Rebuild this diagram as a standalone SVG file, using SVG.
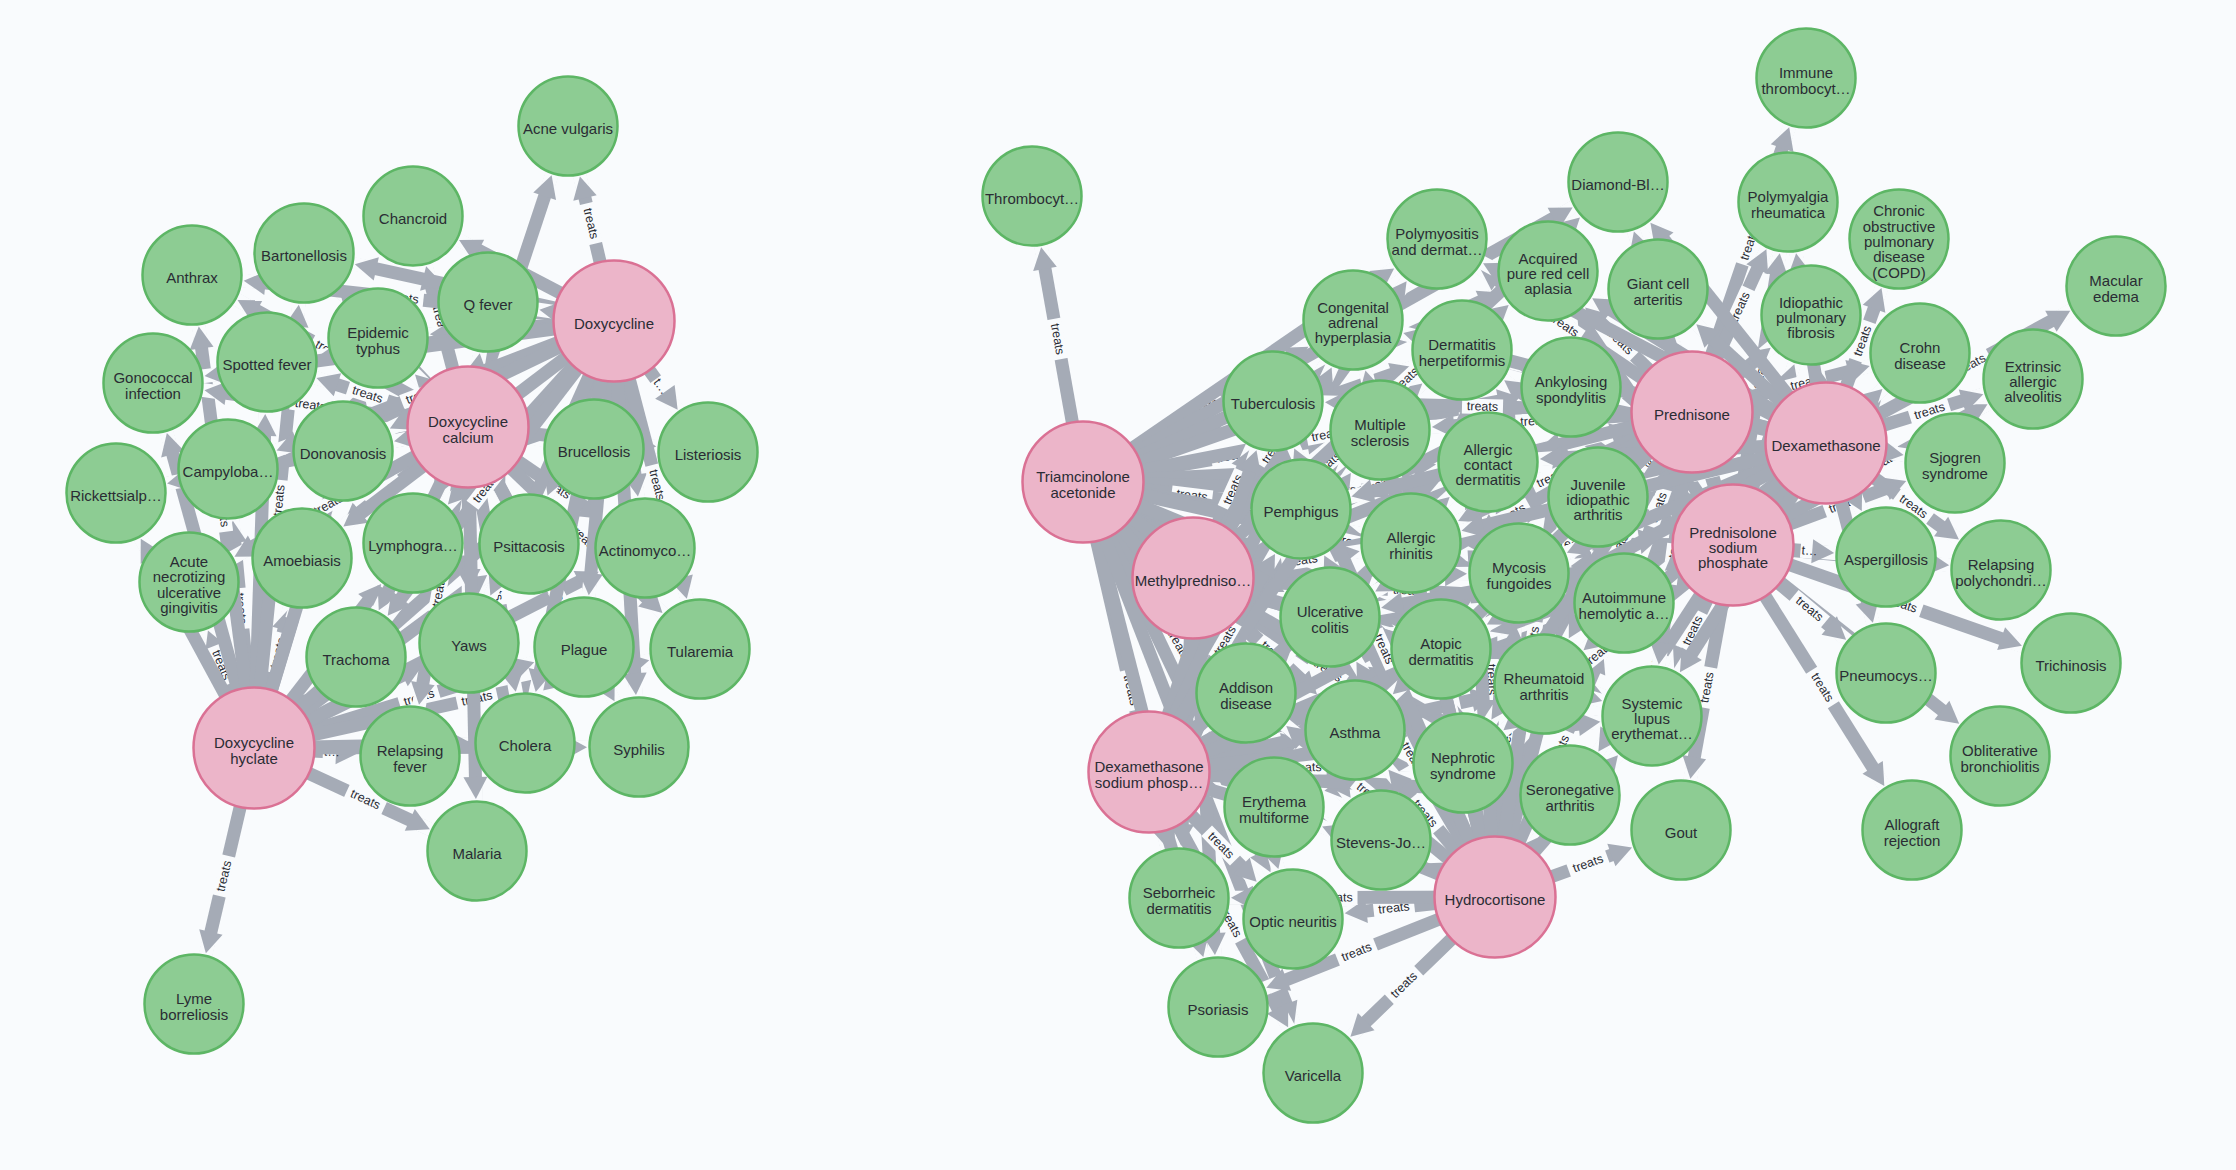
<svg xmlns="http://www.w3.org/2000/svg" width="2236" height="1170" viewBox="0 0 2236 1170">
<style>
.e path{fill:none;stroke:#A5ABB6;stroke-width:13;marker-mid:url(#gp)}
.e .f{marker-end:url(#ah)}
.e .r{marker-start:url(#ah)}
.e .s{marker-mid:url(#gs)}
.e text{font-family:"Liberation Sans",Arial,sans-serif;font-size:12.5px;fill:#2A2C34;text-anchor:middle;dominant-baseline:central}
.e textPath{dominant-baseline:central}
.n circle{fill:#8DCC93;stroke:#5DB665;stroke-width:2.5}
.d circle{fill:#ECB5C9;stroke:#DA7194;stroke-width:2.5}
.n text,.d text{font-family:"Liberation Sans",Arial,sans-serif;font-size:15px;fill:#2A2C34;text-anchor:middle}
</style>
<defs>
<marker id="ah" markerUnits="userSpaceOnUse" orient="auto-start-reverse" overflow="visible" refX="0" refY="0" markerWidth="1" markerHeight="1">
<path d="M-65,-7H-46V7H-65Z" fill="#F9FBFD"/>
<path d="M-52,0L-74,-12L-74,12Z" fill="#A5ABB6"/>
</marker>
<marker id="gp" markerUnits="userSpaceOnUse" orient="auto" overflow="visible" refX="0" refY="0" markerWidth="1" markerHeight="1">
<rect x="-20.5" y="-7.5" width="41" height="15" fill="#F9FBFD"/>
</marker>
<marker id="gs" markerUnits="userSpaceOnUse" orient="auto" overflow="visible" refX="0" refY="0" markerWidth="1" markerHeight="1">
<rect x="-9" y="-7.5" width="18" height="15" fill="#F9FBFD"/>
</marker>
</defs>
<rect width="2236" height="1170" fill="#F9FBFD"/>
<g id="connectors" class="e">
<path id="k1" class="r" d="M194 1004L224 876L254 748"/><text><textPath href="#k1" startOffset="50%">treats</textPath></text>
<path id="k2" class="f" d="M254 748L365.5 799.5L477 851"/><text><textPath href="#k2" startOffset="50%">treats</textPath></text>
<path id="k3" class="f s" d="M254 748L332 752L410 756"/><text><textPath href="#k3" startOffset="50%">t…</textPath></text>
<path id="k4" class="f" d="M254 748L525 743"/>
<path id="k5" class="f" d="M254 748L639 747"/>
<path id="k6" class="f" d="M254 748L419 697.5L584 647"/><text><textPath href="#k6" startOffset="50%">treats</textPath></text>
<path id="k7" class="f" d="M254 748L469 643"/>
<path id="k8" class="f" d="M254 748L356 657"/>
<path id="k9" class="f" d="M254 748L477 698.5L700 649"/><text><textPath href="#k9" startOffset="50%">treats</textPath></text>
<path id="k10" class="f" d="M254 748L645 548"/>
<path id="k11" class="f" d="M254 748L529 544"/>
<path id="k12" class="f" d="M254 748L413 543"/>
<path id="k13" class="f" d="M254 748L278 653L302 558"/><text><textPath href="#k13" startOffset="50%">treats</textPath></text>
<path id="k14" class="r" d="M189 582L221.5 665L254 748"/><text><textPath href="#k14" startOffset="50%">treats</textPath></text>
<path id="k15" class="r" d="M116 493L254 748"/>
<path id="k16" class="r" d="M153 383L254 748"/>
<path id="k17" class="r" d="M228 469L241 608.5L254 748"/><text><textPath href="#k17" startOffset="50%">treats</textPath></text>
<path id="k18" class="r" d="M192 275L223 511.5L254 748"/><text><textPath href="#k18" startOffset="50%">treats</textPath></text>
<path id="k19" class="f" d="M254 748L267 362"/>
<path id="k20" class="f" d="M254 748L279 500.5L304 253"/><text><textPath href="#k20" startOffset="50%">treats</textPath></text>
<path id="k21" class="f" d="M254 748L298.5 599.5L343 451"/><text><textPath href="#k21" startOffset="50%">treats</textPath></text>
<path id="k22" class="f" d="M254 748L378 338"/>
<path id="k23" class="f" d="M254 748L594 449"/>
<path id="k24" class="f" d="M468 427L568 126"/>
<path id="k25" class="r" d="M413 216L440.5 321.5L468 427"/><text><textPath href="#k25" startOffset="50%">treats</textPath></text>
<path id="k26" class="r" d="M304 253L468 427"/>
<path id="k27" class="r" d="M192 275L330 351L468 427"/><text><textPath href="#k27" startOffset="50%">treats</textPath></text>
<path id="k28" class="f" d="M468 427L488 302"/>
<path id="k29" class="r" d="M378 338L468 427"/>
<path id="k30" class="r" d="M267 362L367.5 394.5L468 427"/><text><textPath href="#k30" startOffset="50%">treats</textPath></text>
<path id="k31" class="r" d="M153 383L310.5 405L468 427"/><text><textPath href="#k31" startOffset="50%">treats</textPath></text>
<path id="k32" class="r" d="M228 469L468 427"/>
<path id="k33" class="r" d="M116 493L468 427"/>
<path id="k34" class="r" d="M343 451L468 427"/>
<path id="k35" class="f" d="M468 427L594 449"/>
<path id="k36" class="f" d="M468 427L708 452"/>
<path id="k37" class="r" d="M189 582L328.5 504.5L468 427"/><text><textPath href="#k37" startOffset="50%">treats</textPath></text>
<path id="k38" class="r" d="M302 558L385 492.5L468 427"/><text><textPath href="#k38" startOffset="50%">treats</textPath></text>
<path id="k39" class="r" d="M413 543L468 427"/>
<path id="k40" class="f" d="M468 427L529 544"/>
<path id="k41" class="f" d="M468 427L556.5 487.5L645 548"/><text><textPath href="#k41" startOffset="50%">treats</textPath></text>
<path id="k42" class="r" d="M356 657L468 427"/>
<path id="k43" class="f" d="M468 427L468.5 535L469 643"/><text><textPath href="#k43" startOffset="50%">treats</textPath></text>
<path id="k44" class="f" d="M468 427L584 647"/>
<path id="k45" class="f" d="M468 427L584 538L700 649"/><text><textPath href="#k45" startOffset="50%">treats</textPath></text>
<path id="k46" class="r" d="M410 756L439 591.5L468 427"/><text><textPath href="#k46" startOffset="50%">treats</textPath></text>
<path id="k47" class="f" d="M468 427L496.5 585L525 743"/><text><textPath href="#k47" startOffset="50%">treats</textPath></text>
<path id="k48" class="f" d="M468 427L553.5 587L639 747"/><text><textPath href="#k48" startOffset="50%">treats</textPath></text>
<path id="k49" class="f" d="M468 427L477 851"/>
<path id="k50" class="r" d="M568 126L591 223.5L614 321"/><text><textPath href="#k50" startOffset="50%">treats</textPath></text>
<path id="k51" class="r" d="M413 216L614 321"/>
<path id="k52" class="r" d="M304 253L614 321"/>
<path id="k53" class="r" d="M192 275L403 298L614 321"/><text><textPath href="#k53" startOffset="50%">treats</textPath></text>
<path id="k54" class="r" d="M488 302L614 321"/>
<path id="k55" class="r" d="M378 338L614 321"/>
<path id="k56" class="r" d="M267 362L614 321"/>
<path id="k57" class="r" d="M153 383L614 321"/>
<path id="k58" class="r" d="M228 469L421 395L614 321"/><text><textPath href="#k58" startOffset="50%">treats</textPath></text>
<path id="k59" class="r" d="M343 451L614 321"/>
<path id="k60" class="r" d="M594 449L614 321"/>
<path id="k61" class="f s" d="M614 321L661 386.5L708 452"/><text><textPath href="#k61" startOffset="50%">t…</textPath></text>
<path id="k62" class="r" d="M302 558L614 321"/>
<path id="k63" class="r" d="M413 543L614 321"/>
<path id="k64" class="r" d="M529 544L614 321"/>
<path id="k65" class="f" d="M614 321L645 548"/>
<path id="k66" class="r" d="M356 657L485 489L614 321"/><text><textPath href="#k66" startOffset="50%">treats</textPath></text>
<path id="k67" class="r" d="M469 643L614 321"/>
<path id="k68" class="r" d="M584 647L614 321"/>
<path id="k69" class="f" d="M614 321L657 485L700 649"/><text><textPath href="#k69" startOffset="50%">treats</textPath></text>
<path id="k70" class="r" d="M525 743L614 321"/>
<path id="k71" class="f" d="M614 321L639 747"/>
<path id="k72" class="r" d="M1032 196L1057.5 339L1083 482"/><text><textPath href="#k72" startOffset="50%">treats</textPath></text>
<path id="k73" class="f" d="M1083 482L1178 441.5L1273 401"/><text><textPath href="#k73" startOffset="50%">treats</textPath></text>
<path id="k74" class="f" d="M1083 482L1204.5 409.1L1353 320"/><text><textPath href="#k74" startOffset="45%">treats</textPath></text>
<path id="k75" class="f" d="M1083 482L1231.5 456L1380 430"/><text><textPath href="#k75" startOffset="50%">treats</textPath></text>
<path id="k76" class="f" d="M1083 482L1437 239"/>
<path id="k77" class="f" d="M1083 482L1618 182"/>
<path id="k78" class="f" d="M1083 482L1315.5 376.5L1548 271"/><text><textPath href="#k78" startOffset="50%">treats</textPath></text>
<path id="k79" class="f" d="M1083 482L1462 350"/>
<path id="k80" class="f" d="M1083 482L1327 434.5L1571 387"/><text><textPath href="#k80" startOffset="50%">treats</textPath></text>
<path id="k81" class="f" d="M1083 482L1488 462"/>
<path id="k82" class="f" d="M1083 482L1340.5 489.5L1598 497"/><text><textPath href="#k82" startOffset="50%">treats</textPath></text>
<path id="k83" class="f" d="M1083 482L1192 495.5L1301 509"/><text><textPath href="#k83" startOffset="50%">treats</textPath></text>
<path id="k84" class="f" d="M1083 482L1247 512.5L1411 543"/><text><textPath href="#k84" startOffset="50%">treats</textPath></text>
<path id="k85" class="f" d="M1083 482L1519 573"/>
<path id="k86" class="f" d="M1083 482L1330 617"/>
<path id="k87" class="f" d="M1083 482L1262 565.5L1441 649"/><text><textPath href="#k87" startOffset="50%">treats</textPath></text>
<path id="k88" class="f" d="M1083 482L1544 684"/>
<path id="k89" class="f" d="M1083 482L1246 693"/>
<path id="k90" class="f" d="M1083 482L1355 730"/>
<path id="k91" class="f" d="M1083 482L1178.5 644.5L1274 807"/><text><textPath href="#k91" startOffset="50%">treats</textPath></text>
<path id="k92" class="f" d="M1083 482L1273 622.5L1463 763"/><text><textPath href="#k92" startOffset="50%">treats</textPath></text>
<path id="k93" class="f" d="M1083 482L1381 840"/>
<path id="k94" class="f" d="M1083 482L1131 690L1179 898"/><text><textPath href="#k94" startOffset="50%">treats</textPath></text>
<path id="k95" class="f" d="M1083 482L1218 1007"/>
<path id="k96" class="f" d="M1083 482L1188 700.5L1293 919"/><text><textPath href="#k96" startOffset="50%">treats</textPath></text>
<path id="k97" class="f" d="M1083 482L1313 1073"/>
<path id="k98" class="f" d="M1083 482L1353.5 542.5L1624 603"/><text><textPath href="#k98" startOffset="50%">treats</textPath></text>
<path id="k99" class="f" d="M1083 482L1652 716"/>
<path id="k100" class="f" d="M1193 578L1233 489.5L1273 401"/><text><textPath href="#k100" startOffset="50%">treats</textPath></text>
<path id="k101" class="f" d="M1193 578L1273 449L1353 320"/><text><textPath href="#k101" startOffset="50%">treats</textPath></text>
<path id="k102" class="f" d="M1193 578L1380 430"/>
<path id="k103" class="f" d="M1193 578L1437 239"/>
<path id="k104" class="f" d="M1193 578L1548 271"/>
<path id="k105" class="f" d="M1193 578L1327.5 464L1462 350"/><text><textPath href="#k105" startOffset="50%">treats</textPath></text>
<path id="k106" class="f" d="M1193 578L1382 482.5L1571 387"/><text><textPath href="#k106" startOffset="50%">treats</textPath></text>
<path id="k107" class="f" d="M1193 578L1488 462"/>
<path id="k108" class="f" d="M1193 578L1598 497"/>
<path id="k109" class="f" d="M1193 578L1301 509"/>
<path id="k110" class="f" d="M1193 578L1302 560.5L1411 543"/><text><textPath href="#k110" startOffset="50%">treats</textPath></text>
<path id="k111" class="f" d="M1193 578L1356 575.5L1519 573"/><text><textPath href="#k111" startOffset="50%">treats</textPath></text>
<path id="k112" class="f" d="M1193 578L1330 617"/>
<path id="k113" class="f" d="M1193 578L1441 649"/>
<path id="k114" class="f" d="M1193 578L1544 684"/>
<path id="k115" class="f" d="M1193 578L1246 693"/>
<path id="k116" class="f" d="M1193 578L1274 654L1355 730"/><text><textPath href="#k116" startOffset="50%">treats</textPath></text>
<path id="k117" class="f" d="M1193 578L1274 807"/>
<path id="k118" class="f" d="M1193 578L1328 670.5L1463 763"/><text><textPath href="#k118" startOffset="50%">treats</textPath></text>
<path id="k119" class="f" d="M1193 578L1287 709L1381 840"/><text><textPath href="#k119" startOffset="50%">treats</textPath></text>
<path id="k120" class="r" d="M1179 898L1193 578"/>
<path id="k121" class="f" d="M1193 578L1218 1007"/>
<path id="k122" class="f" d="M1193 578L1243 748.5L1293 919"/><text><textPath href="#k122" startOffset="50%">treats</textPath></text>
<path id="k123" class="f" d="M1193 578L1408.5 590.5L1624 603"/><text><textPath href="#k123" startOffset="50%">treats</textPath></text>
<path id="k124" class="f" d="M1193 578L1652 716"/>
<path id="k125" class="f" d="M1193 578L1381.5 686.5L1570 795"/><text><textPath href="#k125" startOffset="50%">treats</textPath></text>
<path id="k126" class="f" d="M1193 578L1405.5 380L1618 182"/><text><textPath href="#k126" startOffset="50%">treats</textPath></text>
<path id="k127" class="f" d="M1149 772L1273 401"/>
<path id="k128" class="f" d="M1149 772L1353 320"/>
<path id="k129" class="f" d="M1149 772L1380 430"/>
<path id="k130" class="f" d="M1149 772L1225 640.5L1301 509"/><text><textPath href="#k130" startOffset="50%">treats</textPath></text>
<path id="k131" class="f" d="M1149 772L1411 543"/>
<path id="k132" class="f" d="M1149 772L1330 617"/>
<path id="k133" class="f" d="M1149 772L1246 693"/>
<path id="k134" class="f" d="M1149 772L1355 730"/>
<path id="k135" class="f" d="M1149 772L1274 807"/>
<path id="k136" class="f" d="M1149 772L1441 649"/>
<path id="k137" class="f" d="M1149 772L1519 573"/>
<path id="k138" class="f" d="M1149 772L1544 684"/>
<path id="k139" class="f" d="M1149 772L1306 767.5L1463 763"/><text><textPath href="#k139" startOffset="50%">treats</textPath></text>
<path id="k140" class="f" d="M1149 772L1570 795"/>
<path id="k141" class="f" d="M1149 772L1381 840"/>
<path id="k142" class="f" d="M1149 772L1179 898"/>
<path id="k143" class="f" d="M1149 772L1221 845.5L1293 919"/><text><textPath href="#k143" startOffset="50%">treats</textPath></text>
<path id="k144" class="f" d="M1149 772L1218 1007"/>
<path id="k145" class="f" d="M1149 772L1231 922.5L1313 1073"/><text><textPath href="#k145" startOffset="50%">treats</textPath></text>
<path id="k146" class="f" d="M1149 772L1624 603"/>
<path id="k147" class="f" d="M1149 772L1652 716"/>
<path id="k148" class="f" d="M1149 772L1488 462"/>
<path id="k149" class="f" d="M1495 897L1588 863.5L1681 830"/><text><textPath href="#k149" startOffset="50%">treats</textPath></text>
<path id="k150" class="r" d="M1293 919L1394 908L1495 897"/><text><textPath href="#k150" startOffset="50%">treats</textPath></text>
<path id="k151" class="r" d="M1179 898L1337 897.5L1495 897"/><text><textPath href="#k151" startOffset="50%">treats</textPath></text>
<path id="k152" class="r" d="M1218 1007L1356.5 952L1495 897"/><text><textPath href="#k152" startOffset="50%">treats</textPath></text>
<path id="k153" class="r" d="M1313 1073L1404 985L1495 897"/><text><textPath href="#k153" startOffset="50%">treats</textPath></text>
<path id="k154" class="r" d="M1381 840L1495 897"/>
<path id="k155" class="f" d="M1495 897L1570 795"/>
<path id="k156" class="r" d="M1463 763L1495 897"/>
<path id="k157" class="f" d="M1495 897L1544 684"/>
<path id="k158" class="f" d="M1495 897L1652 716"/>
<path id="k159" class="r" d="M1355 730L1425 813.5L1495 897"/><text><textPath href="#k159" startOffset="50%">treats</textPath></text>
<path id="k160" class="r" d="M1441 649L1495 897"/>
<path id="k161" class="r" d="M1274 807L1495 897"/>
<path id="k162" class="r" d="M1246 693L1370.5 795L1495 897"/><text><textPath href="#k162" startOffset="50%">treats</textPath></text>
<path id="k163" class="r" d="M1330 617L1412.5 757L1495 897"/><text><textPath href="#k163" startOffset="50%">treats</textPath></text>
<path id="k164" class="r" d="M1411 543L1453 720L1495 897"/><text><textPath href="#k164" startOffset="50%">treats</textPath></text>
<path id="k165" class="f" d="M1495 897L1507 735L1519 573"/><text><textPath href="#k165" startOffset="50%">treats</textPath></text>
<path id="k166" class="f" d="M1495 897L1559.5 750L1624 603"/><text><textPath href="#k166" startOffset="50%">treats</textPath></text>
<path id="k167" class="f" d="M1495 897L1598 497"/>
<path id="k168" class="r" d="M1488 462L1491.5 679.5L1495 897"/><text><textPath href="#k168" startOffset="50%">treats</textPath></text>
<path id="k169" class="r" d="M1301 509L1495 897"/>
<path id="k170" class="r" d="M1380 430L1495 897"/>
<path id="k171" class="r" d="M1273 401L1384 649L1495 897"/><text><textPath href="#k171" startOffset="50%">treats</textPath></text>
<path id="k172" class="r" d="M1353 320L1495 897"/>
<path id="k173" class="r" d="M1462 350L1478.5 623.5L1495 897"/><text><textPath href="#k173" startOffset="50%">treats</textPath></text>
<path id="k174" class="f" d="M1495 897L1533 642L1571 387"/><text><textPath href="#k174" startOffset="50%">treats</textPath></text>
<path id="k175" class="r" d="M1681 830L1707 687.5L1733 545"/><text><textPath href="#k175" startOffset="50%">treats</textPath></text>
<path id="k176" class="f" d="M1733 545L1822.5 687.5L1912 830"/><text><textPath href="#k176" startOffset="50%">treats</textPath></text>
<path id="k177" class="f" d="M1733 545L2000 756"/>
<path id="k178" class="f" d="M1733 545L1902 604L2071 663"/><text><textPath href="#k178" startOffset="50%">treats</textPath></text>
<path id="k179" class="f" d="M1733 545L1809.5 609L1886 673"/><text><textPath href="#k179" startOffset="50%">treats</textPath></text>
<path id="k180" class="f" d="M1733 545L2001 570"/>
<path id="k181" class="f s" d="M1733 545L1809.5 551L1886 557"/><text><textPath href="#k181" startOffset="50%">t…</textPath></text>
<path id="k182" class="f" d="M1733 545L1844 504L1955 463"/><text><textPath href="#k182" startOffset="50%">treats</textPath></text>
<path id="k183" class="f" d="M1733 545L1883 462L2033 379"/><text><textPath href="#k183" startOffset="50%">treats</textPath></text>
<path id="k184" class="f" d="M1733 545L1920 353"/>
<path id="k185" class="f" d="M1733 545L1760.5 373.5L1788 202"/><text><textPath href="#k185" startOffset="50%">treats</textPath></text>
<path id="k186" class="r" d="M1618 182L1733 545"/>
<path id="k187" class="f" d="M1733 545L1811 315"/>
<path id="k188" class="r" d="M1658 289L1733 545"/>
<path id="k189" class="r" d="M1652 716L1692.5 630.5L1733 545"/><text><textPath href="#k189" startOffset="50%">treats</textPath></text>
<path id="k190" class="r" d="M1624 603L1733 545"/>
<path id="k191" class="r" d="M1544 684L1733 545"/>
<path id="k192" class="r" d="M1598 497L1733 545"/>
<path id="k193" class="r" d="M1519 573L1733 545"/>
<path id="k194" class="r" d="M1571 387L1652 466L1733 545"/><text><textPath href="#k194" startOffset="50%">treats</textPath></text>
<path id="k195" class="r" d="M1488 462L1733 545"/>
<path id="k196" class="r" d="M1411 543L1572 544L1733 545"/><text><textPath href="#k196" startOffset="50%">treats</textPath></text>
<path id="k197" class="r" d="M1441 649L1733 545"/>
<path id="k198" class="r" d="M1570 795L1651.5 670L1733 545"/><text><textPath href="#k198" startOffset="50%">treats</textPath></text>
<path id="k199" class="r" d="M1463 763L1598 654L1733 545"/><text><textPath href="#k199" startOffset="50%">treats</textPath></text>
<path id="k200" class="r" d="M1330 617L1733 545"/>
<path id="k201" class="r" d="M1462 350L1733 545"/>
<path id="k202" class="r" d="M1548 271L1733 545"/>
<path id="k203" class="f" d="M1692 412L1749 245L1806 78"/><text><textPath href="#k203" startOffset="50%">treats</textPath></text>
<path id="k204" class="f" d="M1692 412L1740 307L1788 202"/><text><textPath href="#k204" startOffset="50%">treats</textPath></text>
<path id="k205" class="r" d="M1658 289L1692 412"/>
<path id="k206" class="f" d="M1692 412L1811 315"/>
<path id="k207" class="f" d="M1692 412L1806 382.5L1920 353"/><text><textPath href="#k207" startOffset="50%">treats</textPath></text>
<path id="k208" class="r" d="M1618 182L1692 412"/>
<path id="k209" class="r" d="M1548 271L1620 341.5L1692 412"/><text><textPath href="#k209" startOffset="50%">treats</textPath></text>
<path id="k210" class="r" d="M1571 387L1692 412"/>
<path id="k211" class="r" d="M1462 350L1692 412"/>
<path id="k212" class="r" d="M1437 239L1564.5 325.5L1692 412"/><text><textPath href="#k212" startOffset="50%">treats</textPath></text>
<path id="k213" class="r" d="M1353 320L1692 412"/>
<path id="k214" class="r" d="M1273 401L1482.5 406.5L1692 412"/><text><textPath href="#k214" startOffset="50%">treats</textPath></text>
<path id="k215" class="r" d="M1380 430L1536 421L1692 412"/><text><textPath href="#k215" startOffset="50%">treats</textPath></text>
<path id="k216" class="r" d="M1488 462L1590 437L1692 412"/><text><textPath href="#k216" startOffset="50%">treats</textPath></text>
<path id="k217" class="r" d="M1598 497L1692 412"/>
<path id="k218" class="r" d="M1411 543L1551.5 477.5L1692 412"/><text><textPath href="#k218" startOffset="50%">treats</textPath></text>
<path id="k219" class="r" d="M1519 573L1692 412"/>
<path id="k220" class="r" d="M1624 603L1658 507.5L1692 412"/><text><textPath href="#k220" startOffset="50%">treats</textPath></text>
<path id="k221" class="r" d="M1544 684L1618 548L1692 412"/><text><textPath href="#k221" startOffset="50%">treats</textPath></text>
<path id="k222" class="r" d="M1652 716L1672 564L1692 412"/><text><textPath href="#k222" startOffset="50%">treats</textPath></text>
<path id="k223" class="r" d="M1330 617L1511 514.5L1692 412"/><text><textPath href="#k223" startOffset="50%">treats</textPath></text>
<path id="k224" class="r" d="M1441 649L1692 412"/>
<path id="k225" class="r" d="M1301 509L1692 412"/>
<path id="k226" class="r" d="M1355 730L1692 412"/>
<path id="k227" class="r" d="M1463 763L1692 412"/>
<path id="k228" class="f" d="M1826 443L1862.5 341L1899 239"/><text><textPath href="#k228" startOffset="50%">treats</textPath></text>
<path id="k229" class="f" d="M1826 443L1971 364.5L2116 286"/><text><textPath href="#k229" startOffset="50%">treats</textPath></text>
<path id="k230" class="r" d="M1811 315L1826 443"/>
<path id="k231" class="f" d="M1826 443L1920 353"/>
<path id="k232" class="f" d="M1826 443L1929.5 411L2033 379"/><text><textPath href="#k232" startOffset="50%">treats</textPath></text>
<path id="k233" class="f" d="M1826 443L1955 463"/>
<path id="k234" class="f" d="M1826 443L1886 557"/>
<path id="k235" class="f" d="M1826 443L1913.5 506.5L2001 570"/><text><textPath href="#k235" startOffset="50%">treats</textPath></text>
<path id="k236" class="f" d="M1826 443L1886 673"/>
<path id="k237" class="r" d="M1788 202L1826 443"/>
<path id="k238" class="r" d="M1658 289L1826 443"/>
<path id="k239" class="r" d="M1618 182L1826 443"/>
<path id="k240" class="r" d="M1437 239L1826 443"/>
<path id="k241" class="r" d="M1548 271L1826 443"/>
<path id="k242" class="r" d="M1571 387L1826 443"/>
<path id="k243" class="r" d="M1598 497L1712 470L1826 443"/><text><textPath href="#k243" startOffset="50%">treats</textPath></text>
<path id="k244" class="r" d="M1488 462L1826 443"/>
<path id="k245" class="r" d="M1519 573L1826 443"/>
<path id="k246" class="r" d="M1624 603L1826 443"/>
<path id="k247" class="r" d="M1652 716L1826 443"/>
<path id="k248" class="r" d="M1544 684L1826 443"/>
<path id="k249" class="r" d="M1441 649L1826 443"/>
<path id="k250" class="r" d="M1411 543L1826 443"/>
<path id="k251" class="r" d="M1462 350L1826 443"/>
<path id="k252" class="r" d="M1353 320L1826 443"/>
</g>
<g id="nodes">
<g id="n-acne" class="n" transform="translate(568,126)"><circle r="49.5"/><text y="8">Acne vulgaris</text></g>
<g id="n-chan" class="n" transform="translate(413,216)"><circle r="49.5"/><text y="8">Chancroid</text></g>
<g id="n-bart" class="n" transform="translate(304,253)"><circle r="49.5"/><text y="8">Bartonellosis</text></g>
<g id="n-anth" class="n" transform="translate(192,275)"><circle r="49.5"/><text y="8">Anthrax</text></g>
<g id="n-qfev" class="n" transform="translate(488,302)"><circle r="49.5"/><text y="8">Q fever</text></g>
<g id="n-epid" class="n" transform="translate(378,338)"><circle r="49.5"/><text y="0.4"><tspan x="0">Epidemic</tspan><tspan x="0" dy="15.3">typhus</tspan></text></g>
<g id="n-spot" class="n" transform="translate(267,362)"><circle r="49.5"/><text y="8">Spotted fever</text></g>
<g id="n-gono" class="n" transform="translate(153,383)"><circle r="49.5"/><text y="0.4"><tspan x="0">Gonococcal</tspan><tspan x="0" dy="15.3">infection</tspan></text></g>
<g id="n-camp" class="n" transform="translate(228,469)"><circle r="49.5"/><text y="8">Campyloba…</text></g>
<g id="n-rick" class="n" transform="translate(116,493)"><circle r="49.5"/><text y="8">Rickettsialp…</text></g>
<g id="n-dono" class="n" transform="translate(343,451)"><circle r="49.5"/><text y="8">Donovanosis</text></g>
<g id="n-bruc" class="n" transform="translate(594,449)"><circle r="49.5"/><text y="8">Brucellosis</text></g>
<g id="n-list" class="n" transform="translate(708,452)"><circle r="49.5"/><text y="8">Listeriosis</text></g>
<g id="n-acut" class="n" transform="translate(189,582)"><circle r="49.5"/><text y="-15"><tspan x="0">Acute</tspan><tspan x="0" dy="15.3">necrotizing</tspan><tspan x="0" dy="15.3">ulcerative</tspan><tspan x="0" dy="15.3">gingivitis</tspan></text></g>
<g id="n-amoe" class="n" transform="translate(302,558)"><circle r="49.5"/><text y="8">Amoebiasis</text></g>
<g id="n-lymp" class="n" transform="translate(413,543)"><circle r="49.5"/><text y="8">Lymphogra…</text></g>
<g id="n-psit" class="n" transform="translate(529,544)"><circle r="49.5"/><text y="8">Psittacosis</text></g>
<g id="n-acti" class="n" transform="translate(645,548)"><circle r="49.5"/><text y="8">Actinomyco…</text></g>
<g id="n-trac" class="n" transform="translate(356,657)"><circle r="49.5"/><text y="8">Trachoma</text></g>
<g id="n-yaws" class="n" transform="translate(469,643)"><circle r="49.5"/><text y="8">Yaws</text></g>
<g id="n-plag" class="n" transform="translate(584,647)"><circle r="49.5"/><text y="8">Plague</text></g>
<g id="n-tula" class="n" transform="translate(700,649)"><circle r="49.5"/><text y="8">Tularemia</text></g>
<g id="n-relf" class="n" transform="translate(410,756)"><circle r="49.5"/><text y="0.4"><tspan x="0">Relapsing</tspan><tspan x="0" dy="15.3">fever</tspan></text></g>
<g id="n-chol" class="n" transform="translate(525,743)"><circle r="49.5"/><text y="8">Cholera</text></g>
<g id="n-syph" class="n" transform="translate(639,747)"><circle r="49.5"/><text y="8">Syphilis</text></g>
<g id="n-mala" class="n" transform="translate(477,851)"><circle r="49.5"/><text y="8">Malaria</text></g>
<g id="n-lyme" class="n" transform="translate(194,1004)"><circle r="49.5"/><text y="0.4"><tspan x="0">Lyme</tspan><tspan x="0" dy="15.3">borreliosis</tspan></text></g>
<g id="d-doxy" class="d" transform="translate(614,321)"><circle r="60.5"/><text y="8">Doxycycline</text></g>
<g id="d-calc" class="d" transform="translate(468,427)"><circle r="60.5"/><text y="0.4"><tspan x="0">Doxycycline</tspan><tspan x="0" dy="15.3">calcium</tspan></text></g>
<g id="d-hyc" class="d" transform="translate(254,748)"><circle r="60.5"/><text y="0.4"><tspan x="0">Doxycycline</tspan><tspan x="0" dy="15.3">hyclate</tspan></text></g>
<g id="n-thromb" class="n" transform="translate(1032,196)"><circle r="49.5"/><text y="8">Thrombocyt…</text></g>
<g id="n-cah" class="n" transform="translate(1353,320)"><circle r="49.5"/><text y="-7.3"><tspan x="0">Congenital</tspan><tspan x="0" dy="15.3">adrenal</tspan><tspan x="0" dy="15.3">hyperplasia</tspan></text></g>
<g id="n-tb" class="n" transform="translate(1273,401)"><circle r="49.5"/><text y="8">Tuberculosis</text></g>
<g id="n-ms" class="n" transform="translate(1380,430)"><circle r="49.5"/><text y="0.4"><tspan x="0">Multiple</tspan><tspan x="0" dy="15.3">sclerosis</tspan></text></g>
<g id="n-polymy" class="n" transform="translate(1437,239)"><circle r="49.5"/><text y="0.4"><tspan x="0">Polymyositis</tspan><tspan x="0" dy="15.3">and dermat…</tspan></text></g>
<g id="n-diam" class="n" transform="translate(1618,182)"><circle r="49.5"/><text y="8">Diamond-Bl…</text></g>
<g id="n-aprca" class="n" transform="translate(1548,271)"><circle r="49.5"/><text y="-7.3"><tspan x="0">Acquired</tspan><tspan x="0" dy="15.3">pure red cell</tspan><tspan x="0" dy="15.3">aplasia</tspan></text></g>
<g id="n-gca" class="n" transform="translate(1658,289)"><circle r="49.5"/><text y="0.4"><tspan x="0">Giant cell</tspan><tspan x="0" dy="15.3">arteritis</tspan></text></g>
<g id="n-dh" class="n" transform="translate(1462,350)"><circle r="49.5"/><text y="0.4"><tspan x="0">Dermatitis</tspan><tspan x="0" dy="15.3">herpetiformis</tspan></text></g>
<g id="n-as" class="n" transform="translate(1571,387)"><circle r="49.5"/><text y="0.4"><tspan x="0">Ankylosing</tspan><tspan x="0" dy="15.3">spondylitis</tspan></text></g>
<g id="n-acd" class="n" transform="translate(1488,462)"><circle r="49.5"/><text y="-7.3"><tspan x="0">Allergic</tspan><tspan x="0" dy="15.3">contact</tspan><tspan x="0" dy="15.3">dermatitis</tspan></text></g>
<g id="n-jia" class="n" transform="translate(1598,497)"><circle r="49.5"/><text y="-7.3"><tspan x="0">Juvenile</tspan><tspan x="0" dy="15.3">idiopathic</tspan><tspan x="0" dy="15.3">arthritis</tspan></text></g>
<g id="n-pmr" class="n" transform="translate(1788,202)"><circle r="49.5"/><text y="0.4"><tspan x="0">Polymyalgia</tspan><tspan x="0" dy="15.3">rheumatica</tspan></text></g>
<g id="n-itp" class="n" transform="translate(1806,78)"><circle r="49.5"/><text y="0.4"><tspan x="0">Immune</tspan><tspan x="0" dy="15.3">thrombocyt…</tspan></text></g>
<g id="n-copd" class="n" transform="translate(1899,239)"><circle r="49.5"/><text y="-22.6"><tspan x="0">Chronic</tspan><tspan x="0" dy="15.3">obstructive</tspan><tspan x="0" dy="15.3">pulmonary</tspan><tspan x="0" dy="15.3">disease</tspan><tspan x="0" dy="15.3">(COPD)</tspan></text></g>
<g id="n-mac" class="n" transform="translate(2116,286)"><circle r="49.5"/><text y="0.4"><tspan x="0">Macular</tspan><tspan x="0" dy="15.3">edema</tspan></text></g>
<g id="n-ipf" class="n" transform="translate(1811,315)"><circle r="49.5"/><text y="-7.3"><tspan x="0">Idiopathic</tspan><tspan x="0" dy="15.3">pulmonary</tspan><tspan x="0" dy="15.3">fibrosis</tspan></text></g>
<g id="n-crohn" class="n" transform="translate(1920,353)"><circle r="49.5"/><text y="0.4"><tspan x="0">Crohn</tspan><tspan x="0" dy="15.3">disease</tspan></text></g>
<g id="n-eaa" class="n" transform="translate(2033,379)"><circle r="49.5"/><text y="-7.3"><tspan x="0">Extrinsic</tspan><tspan x="0" dy="15.3">allergic</tspan><tspan x="0" dy="15.3">alveolitis</tspan></text></g>
<g id="n-sjog" class="n" transform="translate(1955,463)"><circle r="49.5"/><text y="0.4"><tspan x="0">Sjogren</tspan><tspan x="0" dy="15.3">syndrome</tspan></text></g>
<g id="n-pemph" class="n" transform="translate(1301,509)"><circle r="49.5"/><text y="8">Pemphigus</text></g>
<g id="n-uc" class="n" transform="translate(1330,617)"><circle r="49.5"/><text y="0.4"><tspan x="0">Ulcerative</tspan><tspan x="0" dy="15.3">colitis</tspan></text></g>
<g id="n-addi" class="n" transform="translate(1246,693)"><circle r="49.5"/><text y="0.4"><tspan x="0">Addison</tspan><tspan x="0" dy="15.3">disease</tspan></text></g>
<g id="n-asth" class="n" transform="translate(1355,730)"><circle r="49.5"/><text y="8">Asthma</text></g>
<g id="n-em" class="n" transform="translate(1274,807)"><circle r="49.5"/><text y="0.4"><tspan x="0">Erythema</tspan><tspan x="0" dy="15.3">multiforme</tspan></text></g>
<g id="n-ar" class="n" transform="translate(1411,543)"><circle r="49.5"/><text y="0.4"><tspan x="0">Allergic</tspan><tspan x="0" dy="15.3">rhinitis</tspan></text></g>
<g id="n-mf" class="n" transform="translate(1519,573)"><circle r="49.5"/><text y="0.4"><tspan x="0">Mycosis</tspan><tspan x="0" dy="15.3">fungoides</tspan></text></g>
<g id="n-aiha" class="n" transform="translate(1624,603)"><circle r="49.5"/><text y="0.4"><tspan x="0">Autoimmune</tspan><tspan x="0" dy="15.3">hemolytic a…</tspan></text></g>
<g id="n-atop" class="n" transform="translate(1441,649)"><circle r="49.5"/><text y="0.4"><tspan x="0">Atopic</tspan><tspan x="0" dy="15.3">dermatitis</tspan></text></g>
<g id="n-ra" class="n" transform="translate(1544,684)"><circle r="49.5"/><text y="0.4"><tspan x="0">Rheumatoid</tspan><tspan x="0" dy="15.3">arthritis</tspan></text></g>
<g id="n-sle" class="n" transform="translate(1652,716)"><circle r="49.5"/><text y="-7.3"><tspan x="0">Systemic</tspan><tspan x="0" dy="15.3">lupus</tspan><tspan x="0" dy="15.3">erythemat…</tspan></text></g>
<g id="n-neph" class="n" transform="translate(1463,763)"><circle r="49.5"/><text y="0.4"><tspan x="0">Nephrotic</tspan><tspan x="0" dy="15.3">syndrome</tspan></text></g>
<g id="n-sero" class="n" transform="translate(1570,795)"><circle r="49.5"/><text y="0.4"><tspan x="0">Seronegative</tspan><tspan x="0" dy="15.3">arthritis</tspan></text></g>
<g id="n-sjs" class="n" transform="translate(1381,840)"><circle r="49.5"/><text y="8">Stevens-Jo…</text></g>
<g id="n-sebd" class="n" transform="translate(1179,898)"><circle r="49.5"/><text y="0.4"><tspan x="0">Seborrheic</tspan><tspan x="0" dy="15.3">dermatitis</tspan></text></g>
<g id="n-optn" class="n" transform="translate(1293,919)"><circle r="49.5"/><text y="8">Optic neuritis</text></g>
<g id="n-psor" class="n" transform="translate(1218,1007)"><circle r="49.5"/><text y="8">Psoriasis</text></g>
<g id="n-vari" class="n" transform="translate(1313,1073)"><circle r="49.5"/><text y="8">Varicella</text></g>
<g id="n-gout" class="n" transform="translate(1681,830)"><circle r="49.5"/><text y="8">Gout</text></g>
<g id="n-asp" class="n" transform="translate(1886,557)"><circle r="49.5"/><text y="8">Aspergillosis</text></g>
<g id="n-rpc" class="n" transform="translate(2001,570)"><circle r="49.5"/><text y="0.4"><tspan x="0">Relapsing</tspan><tspan x="0" dy="15.3">polychondri…</tspan></text></g>
<g id="n-trich" class="n" transform="translate(2071,663)"><circle r="49.5"/><text y="8">Trichinosis</text></g>
<g id="n-pneu" class="n" transform="translate(1886,673)"><circle r="49.5"/><text y="8">Pneumocys…</text></g>
<g id="n-ob" class="n" transform="translate(2000,756)"><circle r="49.5"/><text y="0.4"><tspan x="0">Obliterative</tspan><tspan x="0" dy="15.3">bronchiolitis</tspan></text></g>
<g id="n-allo" class="n" transform="translate(1912,830)"><circle r="49.5"/><text y="0.4"><tspan x="0">Allograft</tspan><tspan x="0" dy="15.3">rejection</tspan></text></g>
<g id="d-tri" class="d" transform="translate(1083,482)"><circle r="60.5"/><text y="0.4"><tspan x="0">Triamcinolone</tspan><tspan x="0" dy="15.3">acetonide</tspan></text></g>
<g id="d-meth" class="d" transform="translate(1193,578)"><circle r="60.5"/><text y="8">Methylpredniso…</text></g>
<g id="d-dsp" class="d" transform="translate(1149,772)"><circle r="60.5"/><text y="0.4"><tspan x="0">Dexamethasone</tspan><tspan x="0" dy="15.3">sodium phosp…</tspan></text></g>
<g id="d-hydro" class="d" transform="translate(1495,897)"><circle r="60.5"/><text y="8">Hydrocortisone</text></g>
<g id="d-psp" class="d" transform="translate(1733,545)"><circle r="60.5"/><text y="-7.3"><tspan x="0">Prednisolone</tspan><tspan x="0" dy="15.3">sodium</tspan><tspan x="0" dy="15.3">phosphate</tspan></text></g>
<g id="d-pred" class="d" transform="translate(1692,412)"><circle r="60.5"/><text y="8">Prednisone</text></g>
<g id="d-dexa" class="d" transform="translate(1826,443)"><circle r="60.5"/><text y="8">Dexamethasone</text></g>
</g>
</svg>
